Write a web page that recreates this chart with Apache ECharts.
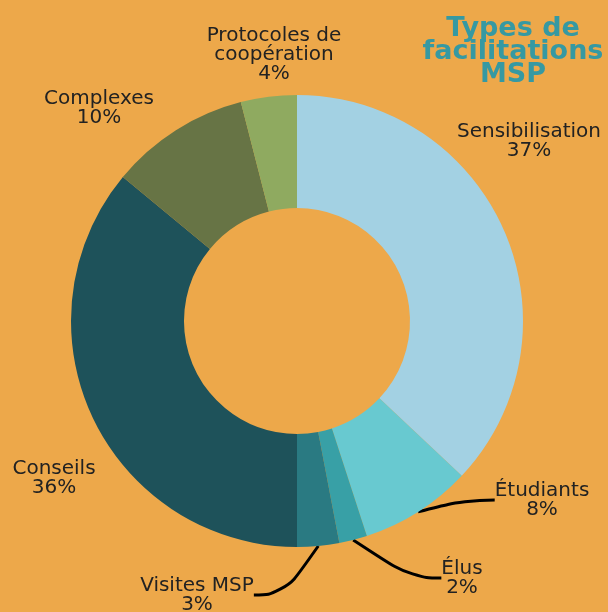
<!DOCTYPE html>
<html>
<head>
<meta charset="utf-8">
<script src="https://cdn.jsdelivr.net/npm/echarts@6/dist/echarts.min.js"></script>
<style>
  html, body { margin: 0; padding: 0; background: #EDA84A; }
  #chart { width: 608px; height: 612px; }
</style>
</head>
<body>
<div id="chart"></div>
<script>
const categories = ['Sensibilisation', 'Étudiants', 'Élus', 'Visites MSP', 'Conseils', 'Complexes', 'Protocoles de\ncoopération'];
const values = [37, 8, 2, 3, 36, 10, 4];
const colors = ['#A3D1E3', '#68C9D0', '#38A0A6', '#2A7A82', '#1E525A', '#677445', '#8FAA60'];

// where each label sits (text centre), picked by eye
const labelPos = [[529, 141], [542, 500], [462, 578], [197, 595], [54, 478], [99, 108], [274, 55]];
const withLine = [false, true, true, true, false, false, false];

const chart = echarts.init(document.getElementById('chart'));

chart.setOption({
    backgroundColor: '#EDA84A',
    title: {
        text: 'Types de\nfacilitations\nMSP',
        left: 508,
        top: 12,
        textAlign: 'center',
        textStyle: {
            fontFamily: 'DejaVu Sans',
            fontWeight: 'bold',
            fontSize: 27,
            lineHeight: 23,
            color: '#3699A2'
        }
    },
    series: [{
        type: 'pie',
        center: [297, 321],
        radius: [113, 226],
        startAngle: 90,
        clockwise: true,
        silent: true,
        data: categories.map((name, i) => ({
            name,
            value: values[i],
            itemStyle: { color: colors[i] },
            labelLine: { show: withLine[i] }
        })),
        label: {
            formatter: '{b}\n{c}%',
            fontFamily: 'DejaVu Sans',
            fontSize: 20,
            lineHeight: 19,
            color: '#222222',
            align: 'center',
            overflow: 'none'
        },
        labelLine: {
            length: 20,
            length2: 30,
            smooth: 0.5,
            lineStyle: { color: '#000000', width: 3 }
        },
        labelLayout: (params) => {
            const p = labelPos[params.dataIndex];
            return { x: p[0], y: p[1], align: 'center', verticalAlign: 'middle' };
        }
    }]
});
</script>
</body>
</html>
